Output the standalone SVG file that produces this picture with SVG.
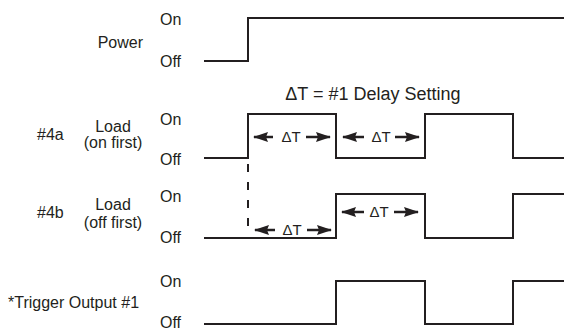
<svg xmlns="http://www.w3.org/2000/svg" width="564" height="331" viewBox="0 0 564 331">
<style>
text{font-family:"Liberation Sans",Arial,sans-serif;fill:#231f20;font-size:16px}
.dt{font-size:15px;text-anchor:middle}
.c{text-anchor:middle}
.w{fill:none;stroke:#231f20;stroke-width:2}
.ar{stroke:#231f20;stroke-width:2.5}
</style>
<defs>
<marker id="ah" markerWidth="15" markerHeight="10" refX="14" refY="5" orient="auto" markerUnits="userSpaceOnUse">
<path d="M0,0 L15,5 L0,10 L2,5 Z" fill="#231f20"/>
</marker>
</defs>
<g id="power">
<text x="143" y="48" text-anchor="end">Power</text>
<text x="160" y="25">On</text>
<text x="160" y="67">Off</text>
</g>
<g id="load4a">
<text x="37" y="140">#4a</text>
<text x="113" y="132" class="c">Load</text>
<text x="113" y="148" class="c">(on first)</text>
<text x="160" y="125">On</text>
<text x="160" y="165">Off</text>
</g>
<g id="load4b">
<text x="37" y="218">#4b</text>
<text x="113" y="210" class="c">Load</text>
<text x="113" y="228" class="c">(off first)</text>
<text x="160" y="202">On</text>
<text x="160" y="243">Off</text>
</g>
<g id="trigger">
<text x="8" y="308">*Trigger Output #1</text>
<text x="160" y="287">On</text>
<text x="160" y="328">Off</text>
</g>
<g id="title">
<text x="373" y="100" class="c" style="font-size:18px">ΔT = #1 Delay Setting</text>
</g>
<g id="connectors">
<polyline class="w" points="204,61 248,61 248,18 564,18"/>
<polyline class="w" points="204,158 248,158 248,114 336,114 336,158 425,158 425,114 513,114 513,158 564,158"/>
<polyline class="w" points="204,238 336,238 336,194 425,194 425,238 513,238 513,194 564,194"/>
<polyline class="w" points="204,324 336,324 336,281 425,281 425,324 513,324 513,281 564,281"/>
<line x1="248" y1="164" x2="248" y2="230" stroke="#231f20" stroke-width="2" stroke-dasharray="8,10"/>
<line class="ar" x1="273" y1="137" x2="254" y2="137" marker-end="url(#ah)"/>
<line class="ar" x1="306" y1="137" x2="330" y2="137" marker-end="url(#ah)"/>
<line class="ar" x1="364" y1="137" x2="343" y2="137" marker-end="url(#ah)"/>
<line class="ar" x1="395" y1="137" x2="419" y2="137" marker-end="url(#ah)"/>
<line class="ar" x1="275" y1="230" x2="255" y2="230" marker-end="url(#ah)"/>
<line class="ar" x1="307" y1="230" x2="331" y2="230" marker-end="url(#ah)"/>
<line class="ar" x1="364" y1="212" x2="342" y2="212" marker-end="url(#ah)"/>
<line class="ar" x1="394" y1="212" x2="418" y2="212" marker-end="url(#ah)"/>
<text x="291" y="142" class="dt">ΔT</text>
<text x="381" y="142" class="dt">ΔT</text>
<text x="292" y="235" class="dt">ΔT</text>
<text x="379" y="217" class="dt">ΔT</text>
</g>
</svg>
